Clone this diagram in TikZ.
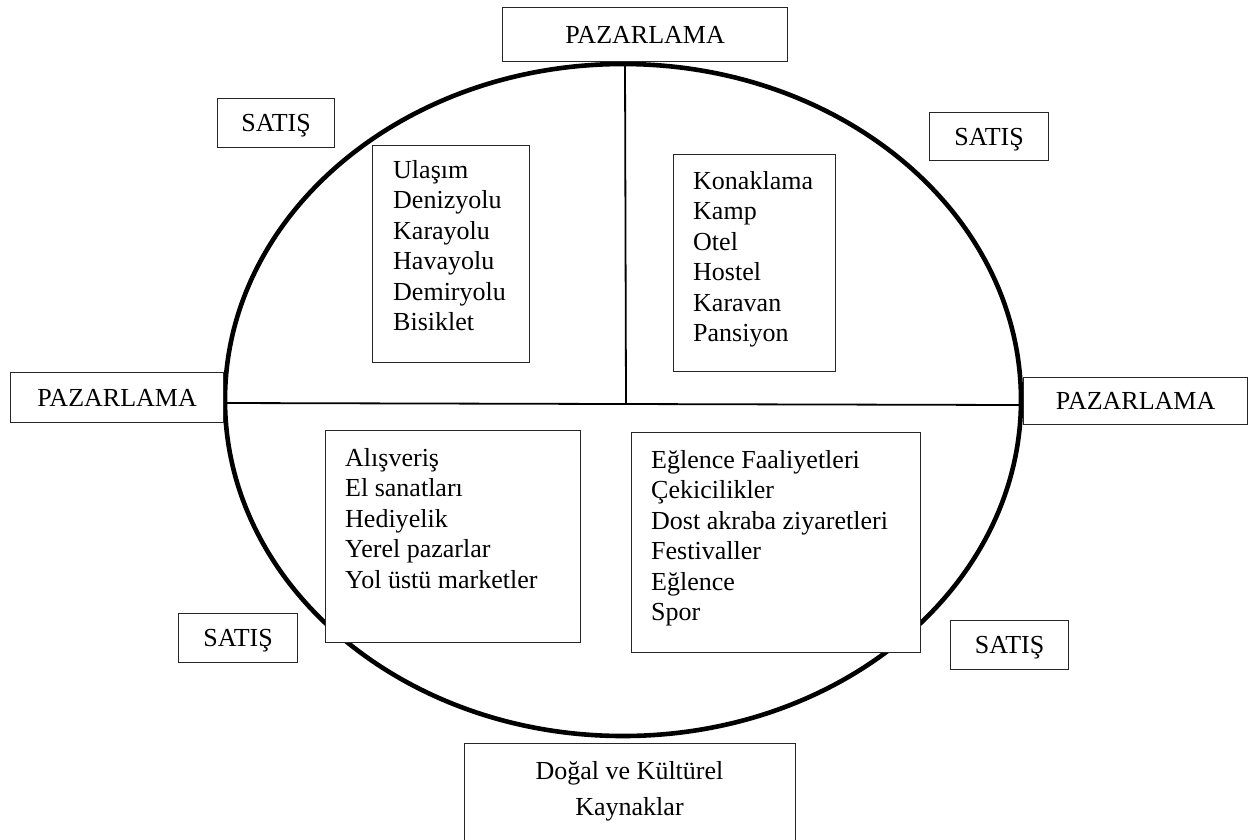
\documentclass[tikz,border=0pt]{standalone}
\usepackage{fontspec}
\setmainfont{Liberation Serif}
\usetikzlibrary{shapes.geometric}
\begin{document}
\begin{tikzpicture}[x=1pt,y=-1pt,
  boxst/.style={draw=black!85, line width=1.2pt, fill=white, rectangle, inner sep=0pt, anchor=north west},
  lbl/.style={font=\fontsize{26}{30.5}\selectfont, text height=17.2pt, text depth=0pt},
  lst/.style={font=\fontsize{26}{30.5}\selectfont, align=left, inner sep=0pt, anchor=north west},
  lstc/.style={font=\fontsize{26}{36}\selectfont, align=center, inner sep=0pt, anchor=north},
  divline/.style={line width=1.8pt, black}
]
\clip (0,0) rectangle (1249,839);
\fill[white] (0,0) rectangle (1249,839);

% main oval
\node[ellipse, draw, line width=4.6pt, minimum width=796pt, minimum height=672pt, inner sep=0pt] (oval) at (623,400) {};

% dividing lines
\coordinate (hl) at (225,403);
\coordinate (hr) at (1020,405);
\coordinate (vt) at (625,64);
\coordinate (vb) at (626,404);
\draw[divline] (hl) -- (hr);
\draw[divline] (vt) -- (vb);

% outer labels
\node[boxst, lbl, minimum width=285pt, minimum height=54pt] (ptop) at (502,7) {PAZARLAMA};
\node[boxst, lbl, minimum width=213pt, minimum height=50pt] (pleft) at (10,372) {PAZARLAMA};
\node[boxst, lbl, minimum width=224pt, minimum height=47pt] (pright) at (1023,377) {PAZARLAMA};
\node[boxst, lbl, minimum width=117pt, minimum height=49pt] (sul) at (217,98) {SATIŞ};
\node[boxst, lbl, minimum width=119pt, minimum height=48pt] (sur) at (929,112) {SATIŞ};
\node[boxst, lbl, minimum width=119pt, minimum height=49pt] (sll) at (178,613) {SATIŞ};
\node[boxst, lbl, minimum width=118pt, minimum height=49pt] (slr) at (950,620) {SATIŞ};

% inner boxes
\node[boxst, minimum width=157pt, minimum height=217pt] (ulbox) at (372,145) {};
\node[lst] (ultxt) at (393,156) {\rule{0pt}{22pt}Ulaşım\\Denizyolu\\Karayolu\\Havayolu\\Demiryolu\\Bisiklet};

\node[boxst, minimum width=162pt, minimum height=217pt] (kobox) at (673,154) {};
\node[lst] (kotxt) at (693,167) {\rule{0pt}{22pt}Konaklama\\Kamp\\Otel\\Hostel\\Karavan\\Pansiyon};

\node[boxst, minimum width=255pt, minimum height=212pt] (albox) at (325,430) {};
\node[lst] (altxt) at (345,444) {\rule{0pt}{22pt}Alışveriş\\El sanatları\\Hediyelik\\Yerel pazarlar\\Yol üstü marketler};

\node[boxst, minimum width=289pt, minimum height=220pt] (egbox) at (631,432) {};
\node[lst] (egtxt) at (651,446) {\rule{0pt}{22pt}Eğlence Faaliyetleri\\Çekicilikler\\Dost akraba ziyaretleri\\Festivaller\\Eğlence\\Spor};

\node[boxst, minimum width=331pt, minimum height=130pt] (dobox) at (464,743) {};
\node[lstc] (dotxt) at (629.5,757) {\rule{0pt}{22pt}Doğal ve Kültürel\\Kaynaklar};
\end{tikzpicture}
\end{document}
